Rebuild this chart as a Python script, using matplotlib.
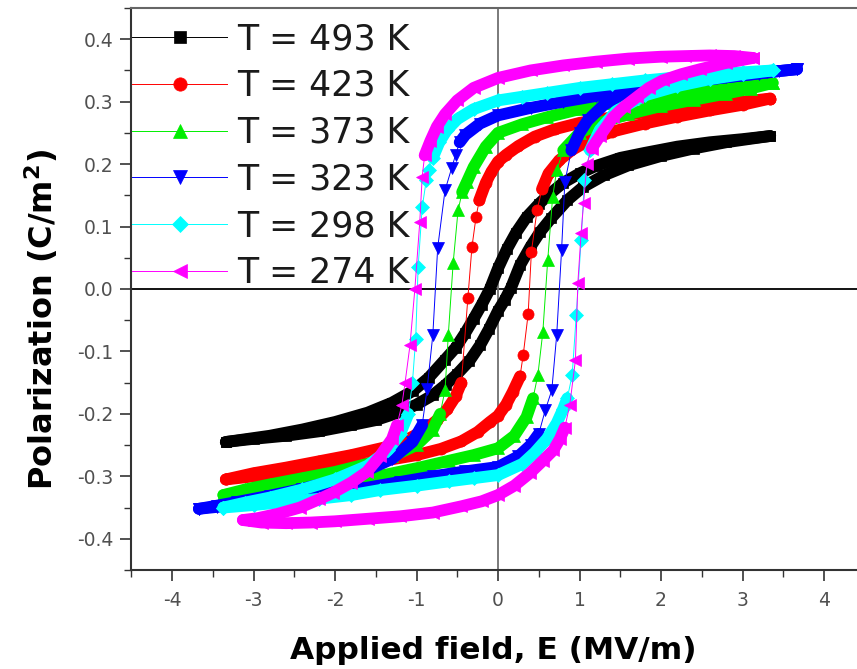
import numpy as np
import matplotlib
matplotlib.use("Agg")
import matplotlib.pyplot as plt
from matplotlib.ticker import MultipleLocator, FormatStrFormatter

plt.rcParams['font.family'] = ['DejaVu Sans']
plt.rcParams['axes.unicode_minus'] = False

# P-E hysteresis loops (E in MV/m, P in C/m^2)
# *_UP: field sweeping down from +Emax, *_DN: field sweeping up from -Emax
TEMPS = [493, 423, 373, 323, 298, 274]

E_493_UP = [3.34, 3.0, 2.6, 2.2, 1.8, 1.5, 1.2, 1.0, 0.8, 0.64, 0.5, 0.35, 0.22, 0.11, 0.0,
            -0.1, -0.2, -0.3, -0.4, -0.52, -0.65, -0.85, -1.04, -1.3, -1.6, -2.0, -2.4, -2.8, -3.34]
P_493_UP = [0.245, 0.240, 0.235, 0.228, 0.218, 0.210, 0.197, 0.185, 0.170, 0.153, 0.136, 0.115, 0.090, 0.064, 0.033,
            0.000, -0.025, -0.048, -0.070, -0.094, -0.113, -0.142, -0.163, -0.182, -0.198, -0.213, -0.225, -0.235, -0.245]
E_493_DN = [-3.34, -3.0, -2.6, -2.2, -1.8, -1.5, -1.2, -1.0, -0.8, -0.64, -0.5, -0.35, -0.22, -0.11, 0.0,
            0.08, 0.16, 0.27, 0.4, 0.52, 0.65, 0.85, 1.04, 1.3, 1.6, 2.0, 2.4, 2.8, 3.34]
P_493_DN = [-0.245, -0.240, -0.235, -0.228, -0.218, -0.210, -0.197, -0.185, -0.170, -0.153, -0.136, -0.115, -0.090, -0.064, -0.035,
            -0.018, 0.002, 0.038, 0.068, 0.092, 0.113, 0.142, 0.163, 0.182, 0.198, 0.213, 0.225, 0.235, 0.245]

E_423_UP = [3.34, 3.0, 2.6, 2.2, 1.8, 1.4, 1.0, 0.7, 0.45, 0.25, 0.1, 0.0, -0.08, -0.15, -0.23,
            -0.27, -0.32, -0.37, -0.45, -0.52, -0.62, -0.75, -0.9, -1.1, -1.4, -1.8, -2.2, -2.6, -3.0, -3.34]
P_423_UP = [0.305, 0.300, 0.295, 0.289, 0.283, 0.275, 0.266, 0.256, 0.244, 0.229, 0.215, 0.204, 0.188, 0.170, 0.142,
            0.115, 0.067, -0.015, -0.150, -0.172, -0.192, -0.210, -0.226, -0.240, -0.254, -0.266, -0.276, -0.286, -0.295, -0.305]
E_423_DN = [-3.34, -3.0, -2.6, -2.2, -1.8, -1.4, -1.0, -0.7, -0.45, -0.25, -0.1, 0.0, 0.1, 0.18, 0.27,
            0.31, 0.37, 0.41, 0.48, 0.54, 0.62, 0.75, 0.9, 1.1, 1.4, 1.8, 2.2, 2.6, 3.0, 3.34]
P_423_DN = [-0.305, -0.300, -0.295, -0.289, -0.283, -0.275, -0.266, -0.256, -0.244, -0.229, -0.213, -0.203, -0.185, -0.165, -0.140,
            -0.105, -0.040, 0.060, 0.127, 0.160, 0.185, 0.206, 0.222, 0.237, 0.252, 0.265, 0.276, 0.286, 0.295, 0.305]

E_373_UP = [3.37, 3.0, 2.6, 2.2, 1.8, 1.4, 1.0, 0.6, 0.3, 0.0, -0.15, -0.3, -0.38, -0.44,
            -0.49, -0.55, -0.61, -0.65, -0.71, -0.8, -1.0, -1.3, -1.6, -2.0, -2.4, -2.8, -3.1, -3.37]
P_373_UP = [0.330, 0.325, 0.319, 0.313, 0.306, 0.298, 0.288, 0.275, 0.264, 0.250, 0.228, 0.195, 0.172, 0.155,
            0.126, 0.042, -0.074, -0.162, -0.200, -0.225, -0.250, -0.268, -0.280, -0.293, -0.303, -0.313, -0.321, -0.330]
E_373_DN = [-3.37, -3.0, -2.6, -2.2, -1.8, -1.4, -1.0, -0.6, -0.3, 0.0, 0.2, 0.35, 0.43, 0.49,
            0.55, 0.61, 0.67, 0.72, 0.8, 1.0, 1.3, 1.6, 2.0, 2.4, 2.8, 3.1, 3.37]
P_373_DN = [-0.330, -0.325, -0.319, -0.313, -0.306, -0.298, -0.287, -0.275, -0.266, -0.255, -0.235, -0.205, -0.175, -0.137,
            -0.069, 0.046, 0.147, 0.190, 0.222, 0.250, 0.268, 0.280, 0.293, 0.303, 0.313, 0.321, 0.330]

E_323_UP = [3.67, 3.45, 3.2, 2.8, 2.4, 2.0, 1.6, 1.2, 0.8, 0.4, 0.0, -0.22, -0.4, -0.47, -0.52,
            -0.57, -0.65, -0.74, -0.8, -0.87, -0.93, -1.05, -1.3, -1.6, -2.0, -2.4, -2.8, -3.2, -3.45, -3.67]
P_323_UP = [0.352, 0.349, 0.345, 0.339, 0.333, 0.326, 0.318, 0.309, 0.300, 0.290, 0.278, 0.265, 0.247, 0.235, 0.215,
            0.193, 0.158, 0.066, -0.074, -0.160, -0.218, -0.245, -0.272, -0.290, -0.307, -0.320, -0.331, -0.341, -0.347, -0.352]
E_323_DN = [-3.67, -3.45, -3.2, -2.8, -2.4, -2.0, -1.6, -1.2, -0.8, -0.4, 0.0, 0.25, 0.4, 0.5, 0.58,
            0.66, 0.72, 0.78, 0.82, 0.9, 1.0, 1.1, 1.3, 1.5, 1.8, 2.2, 2.6, 3.0, 3.3, 3.67]
P_323_DN = [-0.352, -0.349, -0.345, -0.339, -0.333, -0.326, -0.318, -0.309, -0.300, -0.292, -0.285, -0.268, -0.250, -0.232, -0.194,
            -0.162, -0.074, 0.062, 0.171, 0.222, 0.250, 0.270, 0.295, 0.310, 0.320, 0.329, 0.336, 0.342, 0.347, 0.352]

E_298_UP = [3.37, 3.0, 2.6, 2.2, 1.8, 1.4, 1.0, 0.6, 0.3, 0.0, -0.3, -0.5, -0.63, -0.72, -0.8,
            -0.85, -0.88, -0.93, -0.98, -1.01, -1.05, -1.1, -1.2, -1.35, -1.6, -2.0, -2.4, -2.8, -3.1, -3.37]
P_298_UP = [0.350, 0.347, 0.343, 0.339, 0.334, 0.328, 0.322, 0.314, 0.308, 0.302, 0.288, 0.272, 0.254, 0.235, 0.210,
            0.190, 0.174, 0.131, 0.035, -0.080, -0.150, -0.200, -0.232, -0.258, -0.283, -0.305, -0.321, -0.334, -0.342, -0.350]
E_298_DN = [-3.37, -3.0, -2.6, -2.2, -1.8, -1.45, -1.0, -0.6, -0.3, 0.0, 0.3, 0.45, 0.6, 0.72,
            0.8, 0.85, 0.91, 0.96, 1.02, 1.06, 1.13, 1.25, 1.45, 1.8, 2.2, 2.6, 3.0, 3.37]
P_298_DN = [-0.350, -0.346, -0.341, -0.336, -0.330, -0.322, -0.315, -0.308, -0.303, -0.298, -0.280, -0.262, -0.240, -0.215,
            -0.192, -0.175, -0.138, -0.042, 0.078, 0.174, 0.222, 0.255, 0.285, 0.310, 0.325, 0.336, 0.344, 0.350]

E_274_UP = [3.13, 2.9, 2.6, 2.3, 2.0, 1.6, 1.2, 0.8, 0.4, 0.0, -0.3, -0.5, -0.65, -0.75, -0.83, -0.9,
            -0.93, -0.96, -1.02, -1.08, -1.14, -1.18, -1.24, -1.3, -1.45, -1.61, -1.8, -2.02, -2.2, -2.43, -2.7, -2.95, -3.13]
P_274_UP = [0.370, 0.373, 0.374, 0.373, 0.372, 0.369, 0.364, 0.358, 0.350, 0.338, 0.322, 0.302, 0.280, 0.260, 0.237, 0.214,
            0.180, 0.107, 0.000, -0.090, -0.150, -0.186, -0.218, -0.240, -0.268, -0.293, -0.310, -0.326, -0.337, -0.350, -0.360, -0.367, -0.370]
E_274_DN = [-3.13, -2.9, -2.6, -2.3, -2.0, -1.6, -1.2, -0.8, -0.45, -0.2, 0.0, 0.2, 0.39, 0.55, 0.68, 0.76, 0.82,
            0.88, 0.95, 0.98, 1.02, 1.05, 1.09, 1.15, 1.25, 1.41, 1.55, 1.7, 1.85, 2.02, 2.25, 2.48, 2.8, 3.13]
P_274_DN = [-0.370, -0.374, -0.375, -0.374, -0.372, -0.368, -0.364, -0.358, -0.348, -0.340, -0.330, -0.315, -0.295, -0.275, -0.258, -0.240, -0.222,
            -0.186, -0.114, 0.010, 0.090, 0.137, 0.200, 0.225, 0.245, 0.275, 0.292, 0.307, 0.322, 0.334, 0.344, 0.352, 0.362, 0.370]

LOOPS = [
    (E_493_UP, P_493_UP, E_493_DN, P_493_DN),
    (E_423_UP, P_423_UP, E_423_DN, P_423_DN),
    (E_373_UP, P_373_UP, E_373_DN, P_373_DN),
    (E_323_UP, P_323_UP, E_323_DN, P_323_DN),
    (E_298_UP, P_298_UP, E_298_DN, P_298_DN),
    (E_274_UP, P_274_UP, E_274_DN, P_274_DN),
]

# Styles
COLORS = ['#000000', '#ff0000', '#00ee00', '#0000ff', '#00ffff', '#ff00ff']
MARKERS = ['s', 'o', '^', 'v', 'D', '<']
MARKER_SIZES = [7.5, 8, 8.5, 8.5, 7, 8.5]
BAND_WIDTH = 8.5
STEEP = 0.38     # slope above which the measured points are spread out


def draw_branch(ax, e, p, color, marker, ms, label=None):
    """
    Draw one branch: dense (overlapping) parts as a thick ribbon,
    plus the individual points joined by a thin line.
    """
    e = np.asarray(e)
    p = np.asarray(p)
    flat = np.abs(np.diff(p) / np.diff(e)) < STEEP

    start = None
    for i, f in enumerate(flat):
        if f and start is None:
            start = i
        if not f and start is not None:
            ax.plot(e[start:i + 1], p[start:i + 1], color=color, lw=BAND_WIDTH,
                    solid_capstyle='round', solid_joinstyle='round')
            start = None
    if start is not None:
        ax.plot(e[start:], p[start:], color=color, lw=BAND_WIDTH,
                solid_capstyle='round', solid_joinstyle='round')

    line, = ax.plot(e, p, color=color, lw=0.7, marker=marker, ms=ms,
                    mec=color, mew=0.5, label=label)
    return line


# Create figure
fig = plt.figure(figsize=(8.57, 6.69), dpi=100)
ax = fig.add_axes([131.25 / 857, 99 / 669, 733.5 / 857, 562 / 669])

ax.axhline(0, color='black', lw=1.3, zorder=1)
ax.axvline(0, color='#707070', lw=1.3, zorder=1)

handles = []
for (eu, pu, ed, pd), t, c, m, ms in zip(LOOPS, TEMPS, COLORS, MARKERS, MARKER_SIZES):
    h = draw_branch(ax, eu, pu, c, m, ms, label=f'T = {t} K')
    draw_branch(ax, ed, pd, c, m, ms)
    handles.append(h)

ax.set_xlim(-4.5, 4.5)
ax.set_ylim(-0.45, 0.45)
ax.xaxis.set_major_locator(MultipleLocator(1))
ax.xaxis.set_minor_locator(MultipleLocator(0.5))
ax.yaxis.set_major_locator(MultipleLocator(0.1))
ax.yaxis.set_minor_locator(MultipleLocator(0.05))
ax.yaxis.set_major_formatter(FormatStrFormatter('%.1f'))
ax.xaxis.set_major_formatter(FormatStrFormatter('%d'))

ax.tick_params(which='major', direction='out', length=8, width=1.2,
               color='#333333', labelsize=13.5, labelcolor='#505050')
ax.tick_params(which='minor', direction='out', length=5, width=1.0, color='#333333')
ax.tick_params(axis='y', which='major', pad=5)
ax.tick_params(axis='x', which='major', pad=7)

for side in ['left', 'bottom']:
    ax.spines[side].set_color('#333333')
    ax.spines[side].set_linewidth(1.5)
ax.spines['top'].set_color('#666666')
ax.spines['top'].set_linewidth(1.5)
ax.spines['right'].set_visible(False)

ax.set_xlabel('Applied field, E (MV/m)', fontsize=22.5, fontweight='bold')
ax.set_ylabel(r'Polarization (C/m$^\mathbf{2}$)', fontsize=23, fontweight='bold')
ax.xaxis.set_label_coords(0.493, -0.117)
ax.yaxis.set_label_coords(-0.097, 0.446)

leg = ax.legend(handles=handles, loc='upper left', bbox_to_anchor=(0.0015, 0.975),
                frameon=False, fontsize=25, borderpad=0, borderaxespad=0,
                handlelength=2.74, handletextpad=0.29, labelspacing=0.37,
                markerscale=1.2)
for txt in leg.get_texts():
    txt.set_color('#1a1a1a')

fig.savefig('out.png', dpi=100)
